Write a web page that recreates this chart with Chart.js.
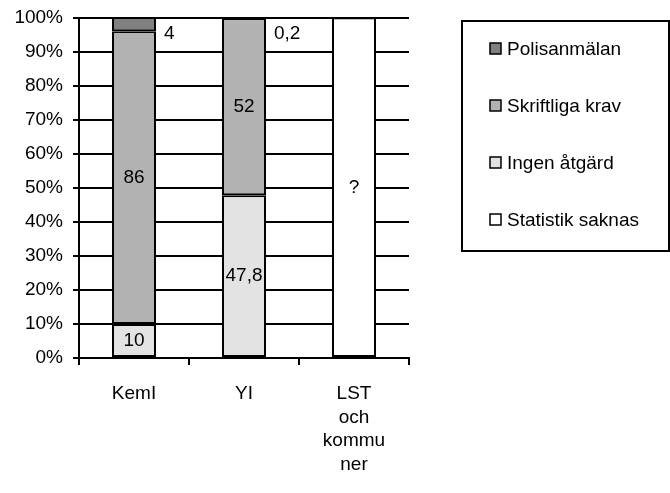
<!DOCTYPE html>
<html>
<head>
<meta charset="utf-8">
<script src="https://cdn.jsdelivr.net/npm/chart.js@4"></script>
<style>
  body { margin: 0; background: #fff; }
  #wrap { width: 670px; height: 493px; }
</style>
</head>
<body>
<div id="wrap"><canvas id="stapel"></canvas></div>
<script>
const categories = ['KemI', 'YI', ['LST', 'och', 'kommu', 'ner']];
const ingenAtgard = [10, 47.8, null];
const skriftligaKrav = [86, 52, null];
const polisanmalan = [4, 0.2, null];
const statistikSaknas = [null, null, 100];
const yTicks = [0, 10, 20, 30, 40, 50, 60, 70, 80, 90, 100];

const FONT = 'Liberation Sans, Arial, sans-serif';
const SIZE = 19;

// draws the numbers on / beside the bars
const barLabels = {
  id: 'barLabels',
  afterDatasetsDraw(chart) {
    const ctx = chart.ctx;
    ctx.save();
    ctx.font = SIZE + 'px ' + FONT;
    ctx.fillStyle = '#000';
    ctx.textBaseline = 'middle';
    chart.data.datasets.forEach((ds, i) => {
      const meta = chart.getDatasetMeta(i);
      meta.data.forEach((bar, j) => {
        const v = ds.data[j];
        if (v == null) return;
        const txt = ds.unknown ? '?' : String(v).replace('.', ',');
        if (v < 5) {
          ctx.textAlign = 'left';
          ctx.fillText(txt, bar.x + bar.width / 2 + 8, bar.y + 16);
        } else {
          ctx.textAlign = 'center';
          ctx.fillText(txt, bar.x, (bar.y + bar.base) / 2);
        }
      });
    });
    ctx.restore();
  }
};

// boxed legend on the right, top item = top of stack
const boxLegend = {
  id: 'boxLegend',
  afterDraw(chart) {
    const ctx = chart.ctx;
    ctx.save();
    ctx.lineWidth = 2;
    ctx.strokeStyle = '#000';
    ctx.strokeRect(462, 21, 207, 230);
    ctx.font = SIZE + 'px ' + FONT;
    ctx.textBaseline = 'middle';
    ctx.textAlign = 'left';
    const items = chart.data.datasets.slice(0, 3).reverse().concat(chart.data.datasets[3]);
    items.forEach((ds, k) => {
      const y = 49 + k * 57;
      ctx.fillStyle = ds.backgroundColor;
      ctx.fillRect(490, y - 6, 11, 11);
      ctx.lineWidth = 1.5;
      ctx.strokeRect(490, y - 6, 11, 11);
      ctx.fillStyle = '#000';
      ctx.fillText(ds.label, 507, y + 1);
    });
    ctx.restore();
  }
};

const segment = (label, data, color) => ({
  label: label,
  data: data,
  backgroundColor: color,
  borderColor: '#000',
  borderWidth: 2,
  borderSkipped: false,
  categoryPercentage: 1,
  barPercentage: 0.4
});

const sets = [
  segment('Ingen åtgärd', ingenAtgard, '#e3e3e3'),
  segment('Skriftliga krav', skriftligaKrav, '#b2b2b2'),
  segment('Polisanmälan', polisanmalan, '#808080'),
  segment('Statistik saknas', statistikSaknas, '#ffffff')
];
sets[3].unknown = true;

new Chart(document.getElementById('stapel'), {
  type: 'bar',
  data: { labels: categories, datasets: sets },
  options: {
    responsive: true,
    maintainAspectRatio: false,
    animation: false,
    layout: { padding: { top: 16, right: 261, left: 0, bottom: 0 } },
    plugins: {
      legend: { display: false },
      tooltip: { enabled: false }
    },
    scales: {
      x: {
        stacked: true,
        grid: { display: true, drawOnChartArea: false, color: '#000', lineWidth: 2, tickLength: 7, offset: true },
        border: { display: true, color: '#000', width: 2 },
        ticks: { color: '#000', font: { family: FONT, size: SIZE, lineHeight: 1.24 }, padding: 17, maxRotation: 0 },
        afterFit(s) { s.height = 135; }
      },
      y: {
        stacked: true,
        min: 0,
        max: 100,
        afterBuildTicks(s) { s.ticks = yTicks.map(v => ({ value: v })); },
        grid: { color: '#000', lineWidth: 2, tickLength: 6 },
        border: { display: true, color: '#000', width: 2 },
        ticks: { color: '#000', font: { family: FONT, size: SIZE, lineHeight: 0.8 }, padding: 10, callback: v => v + '%' },
        afterFit(s) { s.width = 79; }
      }
    }
  },
  plugins: [barLabels, boxLegend]
});
</script>
</body>
</html>
